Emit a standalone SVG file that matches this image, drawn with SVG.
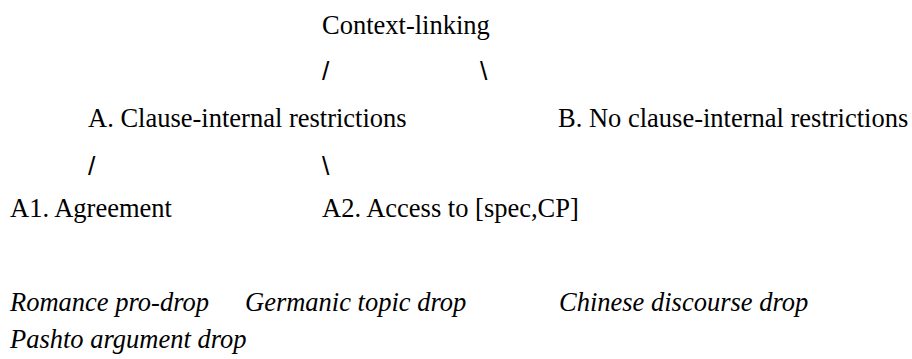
<svg xmlns="http://www.w3.org/2000/svg" width="912" height="359" viewBox="0 0 912 359">
<style>
.t{font-family:'Liberation Serif','Times New Roman',serif;font-size:26.5px;fill:#000}
.i{font-style:italic}
.s{font-family:'Liberation Sans',Arial,sans-serif;font-size:26.5px;fill:#000}
</style>
<rect width="912" height="359" fill="#fff"/>
<g id="context-linking"><text class="t" x="322" y="34">Context-linking</text></g>
<g id="A"><text class="t" x="88" y="127">A. Clause-internal restrictions</text></g>
<g id="B"><text class="t" x="558" y="127">B. No clause-internal restrictions</text></g>
<g id="A1"><text class="t" x="10" y="217">A1. Agreement</text></g>
<g id="A2"><text class="t" x="322" y="217">A2. Access to [spec,CP]</text></g>
<g id="connectors">
<text class="s" x="322" y="80">/</text>
<text class="s" x="480" y="80">\</text>
<text class="s" x="88" y="175">/</text>
<text class="s" x="322" y="175">\</text>
</g>
<g id="examples">
<text class="t i" x="10" y="311">Romance pro-drop</text>
<text class="t i" x="245" y="311">Germanic topic drop</text>
<text class="t i" x="559" y="311">Chinese discourse drop</text>
<text class="t i" x="10" y="348">Pashto argument drop</text>
</g>
</svg>
